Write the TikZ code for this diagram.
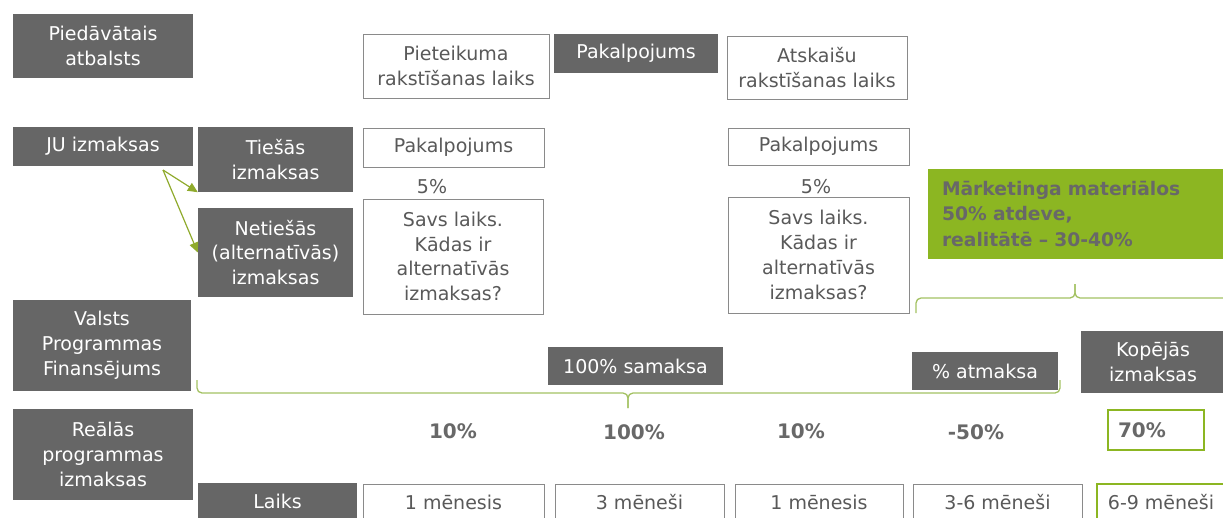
\documentclass[tikz,border=0pt]{standalone}
\usepackage{fontspec}
\setmainfont{DejaVu Sans}
\usetikzlibrary{arrows.meta}
\definecolor{dgray}{HTML}{666666}
\definecolor{bordergray}{HTML}{8A8A8A}
\definecolor{txtgray}{HTML}{595959}
\definecolor{lgreen}{HTML}{8CB622}
\definecolor{bracegreen}{HTML}{A3C162}
\definecolor{arrowgreen}{HTML}{8FAA2C}
\definecolor{boldgray}{HTML}{686868}
\newcommand{\fsn}{\fontsize{19}{24.8}\selectfont}
\tikzset{
  darkbox/.style={fill=dgray, text=white, inner sep=0pt, align=center, font=\fsn},
  whitebox/.style={draw=bordergray, line width=0.9pt, fill=white, text=txtgray, inner sep=0pt, align=center, font=\fsn},
  gbordbox/.style={draw=lgreen, line width=1.1pt, fill=white, text=txtgray, inner sep=0pt, align=center, font=\fsn},
  plaintxt/.style={text=txtgray, inner sep=0pt, font=\fsn},
  pcttxt/.style={text=boldgray, inner sep=0pt, font=\fontsize{20}{24}\selectfont\bfseries},
  bracepath/.style={draw=bracegreen, line width=1.3pt, rounded corners=5pt},
  arr/.style={draw=arrowgreen, line width=1.2pt, -{Triangle[length=10pt,width=9pt]}}
}
\begin{document}
\begin{tikzpicture}[x=1pt,y=-1pt]
\useasboundingbox (0,0) rectangle (1223,517);
\begin{scope}
\clip (0,0) rectangle (1223,517);
% row 1
\node[darkbox, minimum width=180pt, minimum height=64pt] (pied) at (103,46) {Piedāvātais\\atbalsts};
\node[whitebox, minimum width=186pt, minimum height=64pt] (piet) at (456,66) {Pieteikuma\\rakstīšanas laiks};
\node[darkbox, minimum width=164pt, minimum height=39pt] (pak0) at (636,53) {Pakalpojums};
\node[whitebox, minimum width=180pt, minimum height=63pt] (atsk) at (817,67.5) {Atskaišu\\rakstīšanas laiks};
% row 2
\node[darkbox, minimum width=180pt, minimum height=39pt] (ju) at (103,146.5) {JU izmaksas};
\node[darkbox, minimum width=155pt, minimum height=65pt] (tie) at (275.5,159.5) {Tiešās\\izmaksas};
\node[whitebox, minimum width=181pt, minimum height=39pt] (pak1) at (453.5,147.5) {Pakalpojums};
\node[whitebox, minimum width=181pt, minimum height=37pt] (pak2) at (818.5,146.5) {Pakalpojums};
\node[plaintxt] (p5a) at (432,187) {5\%};
\node[plaintxt] (p5b) at (816,187) {5\%};
\node[darkbox, minimum width=155pt, minimum height=89pt] (net) at (275.5,252.5) {Netiešās\\(alternatīvās)\\izmaksas};
\node[whitebox, minimum width=180pt, minimum height=115pt] (savs1) at (453,256.5) {Savs laiks.\\Kādas ir\\alternatīvās\\izmaksas?};
\node[whitebox, minimum width=181pt, minimum height=116pt] (savs2) at (818.5,255) {Savs laiks.\\Kādas ir\\alternatīvās\\izmaksas?};
\node[fill=lgreen, text=boldgray, minimum height=90pt, text width=267pt, inner xsep=14pt, inner ysep=0pt, align=left, font=\fontsize{18.7}{25.5}\selectfont\bfseries] (mark) at (1075.5,213.5) {Mārketinga materiālos\\50\% atdeve,\\realitātē -- 30-40\%};
% arrows
\coordinate (jusrc) at (163,170);
\draw[arr] (jusrc) -- (tie.south west);
\draw[arr] (jusrc) -- (net.west);
% row 3
\node[darkbox, minimum width=178pt, minimum height=91pt] (valsts) at (102,345.5) {Valsts\\Programmas\\Finansējums};
\node[darkbox, minimum width=175pt, minimum height=38pt] (sam) at (635.5,366) {100\% samaksa};
\node[darkbox, minimum width=146pt, minimum height=38pt] (atm) at (985,371) {\% atmaksa};
\node[darkbox, minimum width=144pt, minimum height=62pt] (kop) at (1153,362) {Kopējās\\izmaksas};
% braces
\draw[bracepath] (197,380) -- (197,393) -- (628,393) -- (628,408);
\draw[bracepath] (628,408) -- (628,393) -- (1060,393) -- (1060,380);
\draw[bracepath] (916,313) -- (916,298) -- (1075,298) -- (1075,284);
\draw[bracepath] (1075,284) -- (1075,298) -- (1235,298);
% row 4
\node[darkbox, minimum width=180pt, minimum height=91pt] (real) at (103,454.5) {Reālās\\programmas\\izmaksas};
\node[pcttxt] (c1) at (453,431) {10\%};
\node[pcttxt] (c2) at (634,432) {100\%};
\node[pcttxt] (c3) at (801,431) {10\%};
\node[pcttxt] (c4) at (976,432) {-50\%};
\node[gbordbox, font=\fontsize{20}{24}\selectfont\bfseries, text=boldgray, minimum height=40pt, text width=76pt, inner xsep=10pt, align=left] (c5) at (1156,430) {70\%};
% row 5
\node[darkbox, minimum width=159pt, minimum height=37pt] (laiks) at (277.5,501.5) {Laiks};
\node[whitebox, minimum width=181pt, minimum height=37pt] (m1) at (453.5,502.5) {1 mēnesis};
\node[whitebox, minimum width=169pt, minimum height=37pt] (m2) at (639.5,502.5) {3 mēneši};
\node[whitebox, minimum width=168pt, minimum height=37pt] (m3) at (819,502.5) {1 mēnesis};
\node[whitebox, minimum width=169pt, minimum height=37pt] (m4) at (997.5,502.5) {3-6 mēneši};
\node[gbordbox, minimum width=128pt, minimum height=37pt] (m5) at (1161,502.5) {6-9 mēneši};
\end{scope}
\end{tikzpicture}
\end{document}
